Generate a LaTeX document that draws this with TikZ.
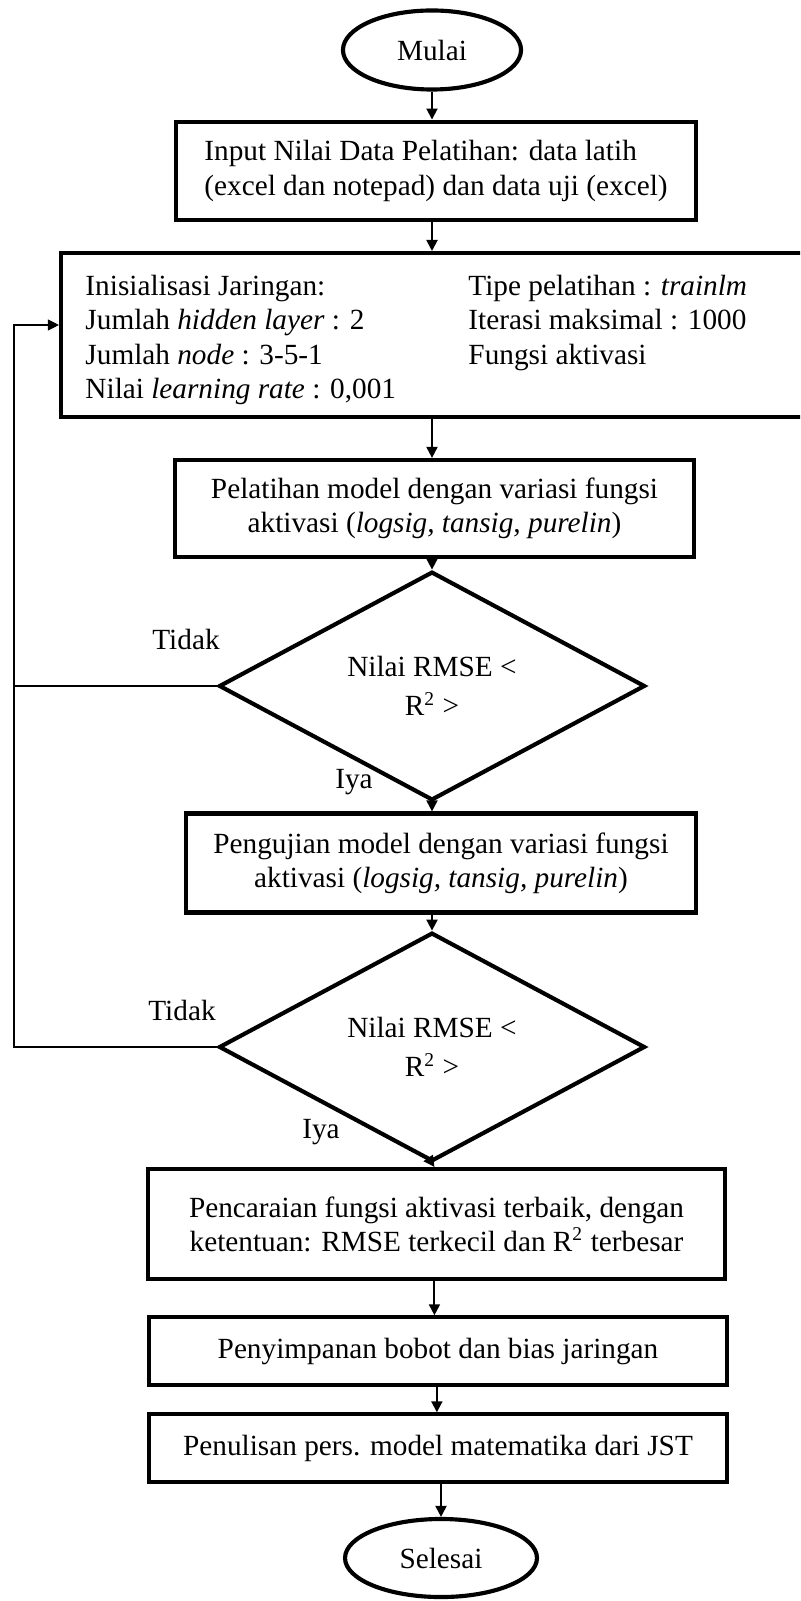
\documentclass[tikz,border=0pt]{standalone}
\usepackage{fontspec}
\setmainfont{Liberation Serif}
\usetikzlibrary{shapes.geometric,arrows.meta}

\begin{document}
\begin{tikzpicture}[x=0.41pt,y=-0.41pt,>={Triangle[length=4.5pt,width=4.5pt]},
  every node/.style={font=\fontsize{12}{14}\selectfont},
  proses/.style={rectangle,draw,line width=1.7pt,inner sep=0pt,align=center},
  terminal/.style={ellipse,draw,line width=1.7pt,inner sep=0pt},
  keputusan/.style={diamond,draw,line width=1.7pt,inner sep=0pt,align=center},
  isi/.style={inner sep=0pt,align=left},
  alur/.style={->,line width=0.8pt},
  balik/.style={line width=0.45pt},
  ket/.style={inner sep=0pt}]
  \useasboundingbox (0,0) rectangle (800,1601);
  \clip (0,0) rectangle (800,1601);

  % alur utama
  \node[terminal, minimum width=73pt, minimum height=32.4pt] (mulai) at (432,50) {Mulai};
  \node[proses, minimum width=213.2pt, minimum height=40.5pt, align=left] (input) at (436,171)
    {Input Nilai Data Pelatihan: data latih\\(excel dan notepad) dan data uji (excel)};
  \node[proses, minimum width=307.9pt, minimum height=67.2pt] (init) at (436.5,335) {};
  \node[isi, anchor=north west] (initkiri) at (85,275)
    {Inisialisasi Jaringan:\\Jumlah \textit{hidden layer} : 2\\Jumlah \textit{node} : 3-5-1\\Nilai \textit{learning rate} : 0,001};
  \node[isi, anchor=north west] (initkanan) at (468,275)
    {Tipe pelatihan : \textit{trainlm}\\Iterasi maksimal : 1000\\Fungsi aktivasi};
  \node[proses, minimum width=212.8pt, minimum height=39.8pt] (latih) at (434.5,508.5)
    {Pelatihan model dengan variasi fungsi\\aktivasi (\textit{logsig, tansig, purelin})};
  \node[keputusan, minimum width=174.7pt, minimum height=73.8pt] (cek1) at (432,686)
    {Nilai RMSE <\\[2pt]R\textsuperscript{2} >};
  \node[proses, minimum width=209.1pt, minimum height=40.6pt] (uji) at (441,863)
    {Pengujian model dengan variasi fungsi\\aktivasi (\textit{logsig, tansig, purelin})};
  \node[keputusan, minimum width=174.7pt, minimum height=74.6pt] (cek2) at (432,1047)
    {Nilai RMSE <\\[2pt]R\textsuperscript{2} >};
  \node[proses, minimum width=236.6pt, minimum height=45.1pt] (cari) at (436.5,1224)
    {Pencaraian fungsi aktivasi terbaik, dengan\\ketentuan: RMSE terkecil dan R\textsuperscript{2} terbesar};
  \node[proses, minimum width=237pt, minimum height=27.6pt] (simpan) at (438,1351)
    {Penyimpanan bobot dan bias jaringan};
  \node[proses, minimum width=237pt, minimum height=27.6pt] (tulis) at (438,1448)
    {Penulisan pers. model matematika dari JST};
  \node[terminal, minimum width=78.7pt, minimum height=32pt] (selesai) at (441,1558) {Selesai};

  % keterangan
  \node[ket] (tidak1) at (186,639) {Tidak};
  \node[ket] (iya1) at (354,782) {Iya};
  \node[ket] (tidak2) at (182,1010) {Tidak};
  \node[ket] (iya2) at (321,1132) {Iya};

  \draw[alur] (mulai.south) -- (mulai.south |- input.north);
  \draw[alur] (mulai.south |- input.south) -- (mulai.south |- init.north);
  \draw[alur] (mulai.south |- init.south) -- (mulai.south |- latih.north);
  \draw[alur] (cek1.north |- latih.south) -- (cek1.north);
  \draw[alur] (cek1.south) -- (cek1.south |- uji.north);
  \draw[alur] (cek2.north |- uji.south) -- (cek2.north);
  \draw[alur] (cek2.south) -- ([xshift=1pt]cek2.south |- cari.north);
  \draw[alur] ([xshift=1pt]cek2.south |- cari.south) -- ([xshift=1pt]cek2.south |- simpan.north);
  \draw[alur] ([xshift=2pt]cek2.south |- simpan.south) -- ([xshift=2pt]cek2.south |- tulis.north);
  \draw[alur] (selesai.north |- tulis.south) -- (selesai.north);

  % kembali ke inisialisasi
  \coordinate (kiri) at (14,325);
  \draw[balik] (cek1.west) -- (cek1.west -| kiri);
  \draw[balik,->] (cek2.west) -- (cek2.west -| kiri) -- (kiri) -- (init.west |- kiri);
\end{tikzpicture}
\end{document}
